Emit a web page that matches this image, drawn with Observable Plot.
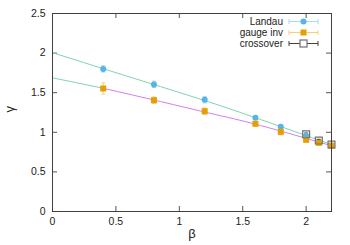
<!DOCTYPE html>
<html><head><meta charset="utf-8">
<script src="https://cdn.jsdelivr.net/npm/d3@7"></script>
<script src="https://cdn.jsdelivr.net/npm/@observablehq/plot@0.6"></script>
<style>body{margin:0;background:#fff;} svg{font-family:"Liberation Sans",Arial,sans-serif;}</style>
</head><body><div id="chart"></div>
<script>
const xTicks = [0, 0.5, 1, 1.5, 2];
const yTicks = [0, 0.5, 1, 1.5, 2, 2.5];
const xTickLabels = ["0", "0.5", "1", "1.5", "2"];
const yTickLabels = ["0", "0.5", "1", "1.5", "2", "2.5"];

const landauX = [0.4, 0.8, 1.2, 1.6, 1.8, 2.0];
const landauY = [1.80, 1.605, 1.41, 1.185, 1.07, 0.955];
const landauErr = [0.04, 0.04, 0.04, 0.02, 0.025, 0.02];

const gaugeX = [0.4, 0.8, 1.2, 1.6, 1.8, 2.0, 2.1, 2.2];
const gaugeY = [1.553, 1.405, 1.266, 1.107, 1.006, 0.905, 0.867, 0.83];
const gaugeErr = [0.07, 0.04, 0.04, 0.02, 0.04, 0.02, 0.02, 0.02];

const crossX = [2.0, 2.1, 2.2];
const crossY = [0.975, 0.896, 0.846];
const crossErr = [0.015, 0.015, 0.015];

const landauFitX = [0, 0.47, 0.85, 1.24, 1.64, 2.2];
const landauFitY = [2.005, 1.768, 1.578, 1.38, 1.162, 0.845];
const gaugeFitExtX = [0, 0.4];
const gaugeFitExtY = [1.688, 1.556];
const gaugeFitX = [0.4, 0.85, 1.24, 1.64, 2.2];
const gaugeFitY = [1.556, 1.389, 1.241, 1.086, 0.83];

const zip = (xs, ys, es) => xs.map((x, i) => ({x, y: ys[i], e: es ? es[i] : 0}));
const landau = zip(landauX, landauY, landauErr);
const gauge = zip(gaugeX, gaugeY, gaugeErr);
const cross = zip(crossX, crossY, crossErr);
const lFit = zip(landauFitX, landauFitY);
const gExt = zip(gaugeFitExtX, gaugeFitExtY);
const gFit = zip(gaugeFitX, gaugeFitY);

const W = 350, H = 245, mL = 52, mR = 19, mT = 13, mB = 34;
const pw = W - mL - mR, ph = H - mT - mB;
const tickLen = 5;
const green = "#7fd3b4", purple = "#d27ff0";
const blue = "#56b4e9", blueLt = "#a9d9f5";
const orange = "#e69f00", orangeLt = "#f4cf7f";
const grey = "#707070";

// horizontal cap symbol for error bars
const capSymbol = {draw(ctx, size) { const w = 2; ctx.moveTo(-w, 0); ctx.lineTo(w, 0); }};

function errMarks(data, color) {
  return [
    Plot.ruleX(data, {x: "x", y1: d => d.y - d.e, y2: d => d.y + d.e, stroke: color, strokeWidth: 1}),
    Plot.dot(data, {x: "x", y: d => d.y - d.e, symbol: capSymbol, stroke: color, strokeWidth: 1, fill: null}),
    Plot.dot(data, {x: "x", y: d => d.y + d.e, symbol: capSymbol, stroke: color, strokeWidth: 1, fill: null}),
  ];
}

const chart = Plot.plot({
  width: W, height: H,
  marginLeft: mL, marginRight: mR, marginTop: mT, marginBottom: mB,
  style: {fontSize: "10px", fontFamily: "Liberation Sans, Arial, sans-serif", color: "#222"},
  x: {domain: [0, 2.2]},
  y: {domain: [0, 2.5]},
  marks: [
    Plot.axisX(xTicks, {tickSize: 0, tickPadding: 6, tickFormat: (d, i) => xTickLabels[i], label: null, fontSize: 10.5}),
    Plot.axisY(yTicks, {tickSize: 0, tickPadding: 7, tickFormat: (d, i) => yTickLabels[i], label: null, fontSize: 10.5}),
    Plot.tickX(xTicks, {x: d => d, insetTop: ph - tickLen, stroke: "#555"}),
    Plot.tickX(xTicks, {x: d => d, insetBottom: ph - tickLen, stroke: "#555"}),
    Plot.tickY(yTicks, {y: d => d, insetRight: pw - tickLen, stroke: "#555"}),
    Plot.tickY(yTicks, {y: d => d, insetLeft: pw - tickLen, stroke: "#555"}),
    Plot.line(lFit, {x: "x", y: "y", stroke: green, strokeWidth: 1, curve: "natural"}),
    Plot.line(gExt, {x: "x", y: "y", stroke: green, strokeWidth: 1}),
    Plot.line(gFit, {x: "x", y: "y", stroke: purple, strokeWidth: 1, curve: "natural"}),
    ...errMarks(landau, blueLt),
    ...errMarks(gauge, orangeLt),
    ...errMarks(cross, "#404040"),
    Plot.dot(landau, {x: "x", y: "y", r: 3, fill: blue, stroke: null}),
    Plot.dot(gauge, {x: "x", y: "y", r: 3.4, symbol: "square", fill: orange, stroke: null}),
    Plot.dot(cross, {x: "x", y: "y", r: 3.9, symbol: "square", fill: "none", stroke: grey, strokeWidth: 1.2}),
    Plot.frame({stroke: "#404040", strokeWidth: 1}),
    Plot.text(["β"], {frameAnchor: "bottom", dy: 26, fontSize: 13, fill: "#222"}),
    Plot.text(["γ"], {frameAnchor: "left", dx: -43, rotate: -90, fontSize: 13, fill: "#222"}),
  ]
});
document.getElementById("chart").appendChild(chart);

// legend inside plot, top right
const legendItems = [
  {label: "Landau", line: blueLt, kind: "circle", fill: blue},
  {label: "gauge inv", line: orangeLt, kind: "square", fill: orange},
  {label: "crossover", line: "#404040", kind: "open", fill: grey},
];
const svg = d3.select(chart);
const lg = svg.append("g").attr("font-size", 10).attr("fill", "#222");
legendItems.forEach((it, i) => {
  const cy = 21.5 + i * 11;
  lg.append("text").attr("x", 283).attr("y", cy).attr("dy", "0.35em").attr("text-anchor", "end").text(it.label);
  lg.append("line").attr("x1", 289).attr("x2", 318).attr("y1", cy).attr("y2", cy).attr("stroke", it.line);
  [289, 318].forEach(x => lg.append("line").attr("x1", x).attr("x2", x).attr("y1", cy - 2.5).attr("y2", cy + 2.5).attr("stroke", it.line));
  if (it.kind === "circle") lg.append("circle").attr("cx", 303.5).attr("cy", cy).attr("r", 3).attr("fill", it.fill);
  else if (it.kind === "square") lg.append("rect").attr("x", 300.5).attr("y", cy - 3).attr("width", 6).attr("height", 6).attr("fill", it.fill);
  else lg.append("rect").attr("x", 300).attr("y", cy - 3.5).attr("width", 7).attr("height", 7).attr("fill", "#fff").attr("stroke", it.fill).attr("stroke-width", 1.2);
});
</script>
</body></html>
